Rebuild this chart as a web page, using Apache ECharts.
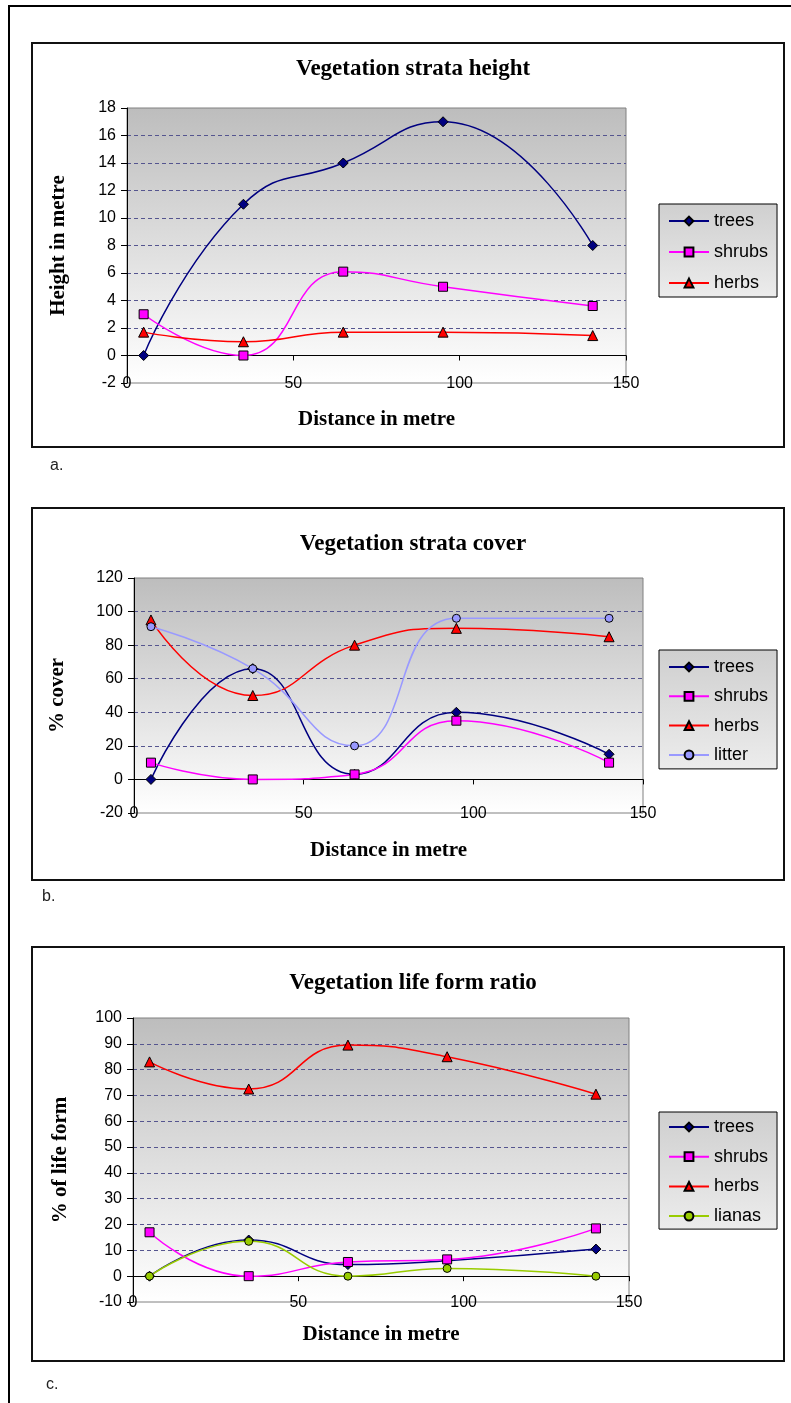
<!DOCTYPE html>
<html>
<head>
    <meta charset="utf-8">
    <title>Vegetation strata</title>
    <script src="https://cdn.jsdelivr.net/npm/echarts@6/dist/echarts.min.js"></script>
    <style>
        html, body { margin: 0; padding: 0; background: #fff; }
        #main { width: 791px; height: 1403px; }
    </style>
</head>
<body>
    <div id="main"></div>
    <script>
        // distance along the transect (m)
        var distance = [5, 35, 65, 95, 140];

        // a. vegetation strata height (m)
        var heightTrees  = [0, 11, 14, 17, 8];
        var heightShrubs = [3, 0, 6.1, 5, 3.6];
        var heightHerbs  = [1.7, 1, 1.7, 1.7, 1.45];

        // b. vegetation strata cover (%)
        var coverTrees  = [0, 66, 3, 40, 15];
        var coverShrubs = [10, 0, 3, 35, 10];
        var coverHerbs  = [95, 50, 80, 90, 85];
        var coverLitter = [91, 66, 20, 96, 96];

        // c. vegetation life form ratio (%)
        var lifeTrees  = [0, 14, 4.5, 6, 10.5];
        var lifeShrubs = [17, 0, 5.5, 6.5, 18.5];
        var lifeHerbs  = [83, 72.5, 89.5, 85, 70.5];
        var lifeLianas = [0, 13.5, 0, 3, 0];

        // axis ranges [min, max, step]
        var distanceTicks = [0, 150, 50];
        var heightTicks   = [-2, 18, 2];
        var coverTicks    = [-20, 120, 20];
        var lifeTicks     = [-10, 100, 10];

        var chart = echarts.init(document.getElementById('main'));

        var serif = '"Liberation Serif", "Times New Roman", serif';
        var sans  = '"Liberation Sans", Arial, sans-serif';

        var looks = {
            trees:  { color: '#000080', symbol: 'diamond',  size: 10 },
            shrubs: { color: '#ff00ff', symbol: 'rect',     size: 9 },
            herbs:  { color: '#ff0000', symbol: 'triangle', size: 10 },
            litter: { color: '#9999ff', symbol: 'circle',   size: 8 },
            lianas: { color: '#99cc00', symbol: 'circle',   size: 8 }
        };

        function pairs(values) {
            return distance.map(function (d, i) { return [d, values[i]]; });
        }

        function line(name, values, g) {
            var l = looks[name];
            return {
                name: name,
                type: 'line',
                xAxisIndex: g * 2,
                yAxisIndex: g,
                smooth: true,
                symbol: l.symbol,
                symbolSize: l.size,
                showAllSymbol: true,
                lineStyle: { color: l.color, width: 1.5 },
                itemStyle: { color: l.color, borderColor: '#000', borderWidth: 1 },
                data: pairs(values)
            };
        }

        function plotFill() {
            return new echarts.graphic.LinearGradient(0, 0, 0, 1, [
                { offset: 0, color: '#bdbdbd' },
                { offset: 1, color: '#ffffff' }
            ]);
        }

        function legendFill() {
            return new echarts.graphic.LinearGradient(0, 0, 0, 1, [
                { offset: 0, color: '#cfcfcf' },
                { offset: 1, color: '#ececec' }
            ]);
        }

        // grid rects: [left, top, width, height]
        var plots = [
            [127, 108, 499, 275],
            [134, 578, 509, 235],
            [133, 1018, 496, 284]
        ];
        var yTicks = [heightTicks, coverTicks, lifeTicks];
        var yNames = ['Height in metre', '% cover', '% of life form'];
        var yGaps = [58, 66, 62];
        var xGaps = [26, 27, 22];

        var grids = [], xAxes = [], yAxes = [];
        plots.forEach(function (p, g) {
            grids.push({
                left: p[0], top: p[1], width: p[2], height: p[3],
                show: true,
                backgroundColor: plotFill(),
                borderColor: '#808080',
                borderWidth: 1
            });
            // axis line + ticks sitting on y = 0
            xAxes.push({
                type: 'value', gridIndex: g,
                min: distanceTicks[0], max: distanceTicks[1], interval: distanceTicks[2],
                axisLine: { onZero: true, lineStyle: { color: '#000', width: 1 } },
                axisTick: { show: true, length: 5, lineStyle: { color: '#000' } },
                axisLabel: { show: false },
                splitLine: { show: false }
            });
            // labels and title along the bottom of the plot
            xAxes.push({
                type: 'value', gridIndex: g, position: 'bottom',
                min: distanceTicks[0], max: distanceTicks[1], interval: distanceTicks[2],
                axisLine: { show: false, onZero: false },
                axisTick: { show: false },
                axisLabel: { color: '#000', fontFamily: sans, fontSize: 16, margin: -7 },
                splitLine: { show: false },
                name: 'Distance in metre',
                nameLocation: 'middle',
                nameGap: xGaps[g],
                nameTextStyle: { color: '#000', fontFamily: serif, fontWeight: 'bold', fontSize: 21 }
            });
            yAxes.push({
                type: 'value', gridIndex: g,
                min: yTicks[g][0], max: yTicks[g][1], interval: yTicks[g][2],
                axisLine: { show: true, onZero: false, lineStyle: { color: '#000', width: 1 } },
                axisTick: { show: true, length: 6, lineStyle: { color: '#000' } },
                axisLabel: { color: '#000', fontFamily: sans, fontSize: 16, margin: 11 },
                splitLine: {
                    show: true, showMinLine: false, showMaxLine: false,
                    lineStyle: { color: '#55558f', type: [4, 3], width: 1 }
                },
                name: yNames[g],
                nameLocation: 'middle',
                nameGap: yGaps[g],
                nameTextStyle: { color: '#000', fontFamily: serif, fontWeight: 'bold', fontSize: 21 }
            });
        });

        function legend(names, top, gap, pad) {
            return {
                data: names,
                orient: 'vertical',
                left: 659, top: top,
                itemWidth: 40, itemHeight: 11, itemGap: gap,
                padding: pad,
                backgroundColor: legendFill(),
                borderColor: '#000', borderWidth: 1, borderRadius: 0,
                textStyle: { color: '#000', fontFamily: sans, fontSize: 18, lineHeight: 18 }
            };
        }

        function title(text, top) {
            return {
                text: text, left: 408, top: top, textAlign: 'center',
                textStyle: { color: '#000', fontFamily: serif, fontWeight: 'bold', fontSize: 23 }
            };
        }

        function box(y, h) {
            return { type: 'rect', shape: { x: 32, y: y, width: 752, height: h },
                     style: { fill: 'none', stroke: '#111', lineWidth: 2 }, silent: true };
        }

        function tag(text, x, y) {
            return { type: 'text', x: x, y: y,
                     style: { text: text, fill: '#222', font: '16px ' + sans } };
        }

        var option = {
            animation: false,
            backgroundColor: '#fff',
            title: [
                title('Vegetation strata height', 53),
                title('Vegetation strata cover', 528),
                title('Vegetation life form ratio', 967)
            ],
            legend: [
                legend(['trees', 'shrubs', 'herbs'], 204, 13, [8, 9, 5, 9]),
                legend(['trees', 'shrubs', 'herbs', 'litter'], 650, 11.3, [8, 9, 5, 9]),
                legend(['trees', 'shrubs', 'herbs', 'lianas'], 1112, 11.7, [6, 9, 4, 9])
            ],
            grid: grids,
            xAxis: xAxes,
            yAxis: yAxes,
            graphic: [
                { type: 'line', shape: { x1: 9, y1: 6, x2: 9, y2: 1403 }, style: { stroke: '#000', lineWidth: 2 } },
                { type: 'line', shape: { x1: 8, y1: 6, x2: 791, y2: 6 }, style: { stroke: '#000', lineWidth: 2 } },
                box(43, 404),
                box(508, 372),
                box(947, 414),
                tag('a.', 50, 458),
                tag('b.', 42, 889),
                tag('c.', 46, 1377)
            ],
            series: [
                line('trees', heightTrees, 0),
                line('shrubs', heightShrubs, 0),
                line('herbs', heightHerbs, 0),

                line('trees', coverTrees, 1),
                line('shrubs', coverShrubs, 1),
                line('herbs', coverHerbs, 1),
                line('litter', coverLitter, 1),

                line('trees', lifeTrees, 2),
                line('shrubs', lifeShrubs, 2),
                line('herbs', lifeHerbs, 2),
                line('lianas', lifeLianas, 2)
            ]
        };

        chart.setOption(option);
    </script>
</body>
</html>
